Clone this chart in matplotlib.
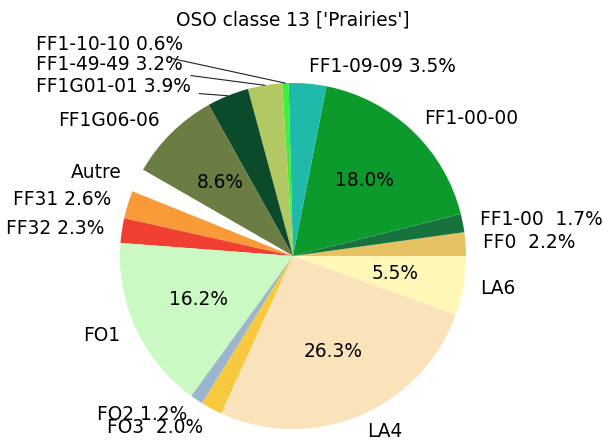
import numpy as np
import matplotlib
matplotlib.use('Agg')
import matplotlib.pyplot as plt

names = ['FF0', 'FF1-00', 'FF1-00-00', 'FF1-09-09', 'FF1-10-10', 'FF1-49-49',
         'FF1G01-01', 'FF1G06-06', 'Autre', 'FF31', 'FF32', 'FO1', 'FO2', 'FO3',
         'LA4', 'LA6']
values = [2.2, 1.7, 18.0, 3.5, 0.6, 3.2, 3.9, 8.6, 2.2, 2.6, 2.3, 16.2, 1.2,
          2.0, 26.3, 5.5]
labels = ['FF0  2.2%', 'FF1-00  1.7%', 'FF1-00-00', 'FF1-09-09 3.5%',
          'FF1-10-10 0.6%', 'FF1-49-49 3.2%', 'FF1G01-01 3.9%', 'FF1G06-06',
          'Autre', 'FF31 2.6%', 'FF32 2.3%', 'FO1', 'FO2 1.2%', 'FO3  2.0%',
          'LA4', 'LA6']
colors = ['#e6c262', '#17723f', '#0c9a2c', '#1fbaa9', '#3df03a', '#b2c862',
          '#0b4a2b', '#6b7d42', '#ffffff', '#f99a38', '#f03e31', '#caf9c4',
          '#9bb5cf', '#f8c83f', '#fae2bb', '#fff7b5']
# labels pulled out to the upper left with a leader line
moved = {'FF1-10-10': 1.22, 'FF1-49-49': 1.105, 'FF1G01-01': 0.977}

fs = 13.4
fig = plt.figure(figsize=(6.11, 4.43), dpi=100)
ax = fig.add_axes([0, 0, 1, 1])

wedges, texts, autotexts = ax.pie(
    values, labels=labels, colors=colors, startangle=0,
    autopct=lambda p: f'{p:.1f}%' if p > 5 else '',
    textprops={'fontsize': fs})

for name, w, t in zip(names, wedges, texts):
    if name in moved:
        t.set_visible(False)
        ang = np.deg2rad((w.theta1 + w.theta2) / 2)
        ax.annotate(t.get_text(), xy=(np.cos(ang), np.sin(ang)),
                    xytext=(-1.486, moved[name]), ha='left', va='center',
                    fontsize=fs,
                    arrowprops=dict(arrowstyle='-', color='#222222', lw=0.8,
                                    shrinkA=4, shrinkB=0))
    elif name == 'FO3':
        x, y = t.get_position()
        t.set_position((x, y - 0.02))

ax.set_xlim(-293 / 173, 318 / 173)
ax.set_ylim(-187 / 173, 256 / 173)
ax.text(0, 1.364, "OSO classe 13 ['Prairies']", ha='center', va='center',
        fontsize=fs)

fig.savefig('out.png', dpi=100)
